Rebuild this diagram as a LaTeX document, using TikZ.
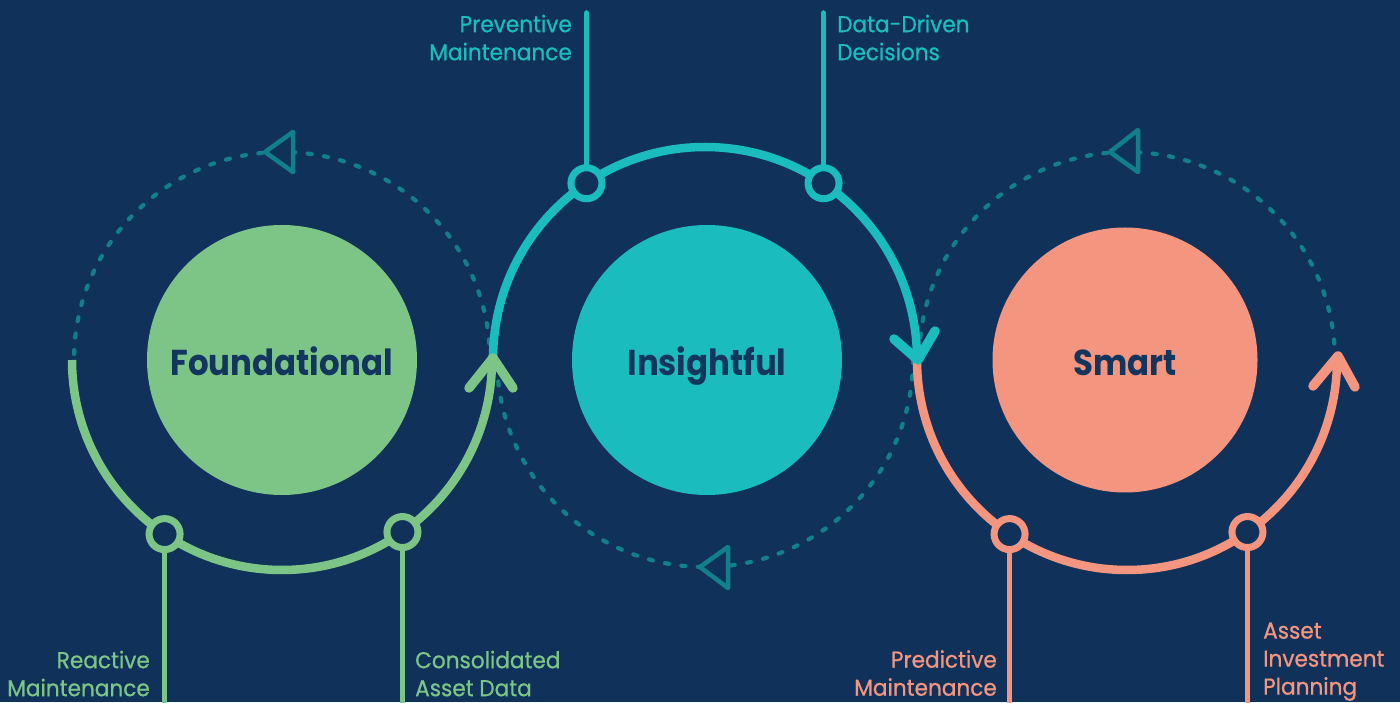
\documentclass[tikz,border=0pt]{standalone}
\usepackage{fontspec}
\setmainfont{Poppins}
\newfontfamily\titlefont{Poppins}[FakeStretch=0.9]
\newfontfamily\labelfont{Poppins}[FakeStretch=0.94, FakeBold=0.7]
\usetikzlibrary{calc}
\definecolor{bg}{HTML}{10325A}
\definecolor{fgreen}{HTML}{7DC586}
\definecolor{iteal}{HTML}{1ABCBE}
\definecolor{ssalmon}{HTML}{F4957F}
\definecolor{dteal}{HTML}{11808A}
\definecolor{navytext}{HTML}{12365E}
\tikzset{
  bigc/.style={circle, inner sep=0pt, minimum size=270pt, text=navytext,
    text height=32pt, text depth=0pt,
    font=\titlefont\bfseries\fontsize{36}{40}\selectfont},
  solidring/.style={line width=8.5pt},
  dashring/.style={dteal, line width=4.2pt, line cap=round, dash pattern=on 4pt off 12.5pt},
  chev/.style={line width=9.5pt, line cap=round, line join=round},
  tri/.style={dteal, line width=4.5pt, fill=bg, line join=round},
  smallc/.style={circle, inner sep=0pt, minimum size=31pt, line width=7pt, draw=#1, fill=bg},
  stem/.style={line width=5.5pt, line cap=round},
  lab/.style={inner sep=0pt, font=\labelfont\fontsize{23}{28}\selectfont},
}
\begin{document}
\begin{tikzpicture}[x=1pt,y=1pt]
\fill[bg] (0,0) rectangle (1400,702);
\useasboundingbox (0,0) rectangle (1400,702);

% ring centres
\coordinate (cF) at (282,342);
\coordinate (cI) at (705,343);
\coordinate (cS) at (1127,342);

% big circles
\node[bigc, fill=fgreen] (F) at (282,342) {Foundational};
\node[bigc, fill=iteal] (I) at (707,342) {Insightful};
\node[bigc, fill=ssalmon, minimum size=265pt] (S) at (1125,342) {Smart};

% dashed halves
\draw[dashring] ($(cF)+(0:208pt)$) arc[start angle=0, end angle=180, radius=208pt];
\draw[dashring] ($(cI)+(0:208pt)$) arc[start angle=0, end angle=-180, radius=208pt];
\draw[dashring] ($(cS)+(0:208pt)$) arc[start angle=0, end angle=180, radius=208pt];

% triangles
\draw[tri] (265,550) -- (293,570) -- (293,530) -- cycle;
\draw[tri] (700,135) -- (728,155) -- (728,114) -- cycle;
\draw[tri] (1110,550) -- (1138,572) -- (1138,530) -- cycle;

% solid halves
\draw[solidring, fgreen] ($(cF)+(180:210pt)$) arc[start angle=180, end angle=360, radius=210pt];
\draw[solidring, iteal] ($(cI)+(180:212pt)$) arc[start angle=180, end angle=0, radius=212pt];
\draw[solidring, ssalmon] ($(cS)+(180:210pt)$) arc[start angle=180, end angle=360, radius=210pt];

% arrowheads
\coordinate (fa1) at (469,314); \coordinate (fat) at (493,344); \coordinate (fa2) at (513,314);
\draw[chev, fgreen] (fa1) -- (fat) -- (fa2);
\coordinate (ia1) at (894,363); \coordinate (iat) at (918,342); \coordinate (ia2) at (935,371);
\draw[chev, iteal] (ia1) -- (iat) -- (ia2);
\coordinate (sa1) at (1313,316); \coordinate (sat) at (1338,346); \coordinate (sa2) at (1355,315);
\draw[chev, ssalmon] (sa1) -- (sat) -- (sa2);

% small circles
\coordinate (pf1) at ($(cF)+(-124:210pt)$);
\coordinate (pf2) at ($(cF)+(-55:210pt)$);
\coordinate (pi1) at ($(cI)+(124:212pt)$);
\coordinate (pi2) at ($(cI)+(56:212pt)$);
\coordinate (ps1) at ($(cS)+(-124:210pt)$);
\coordinate (ps2) at ($(cS)+(-55:210pt)$);

% stems ends
\coordinate (ef1) at (pf1 |- 0,-10);
\coordinate (ef2) at (pf2 |- 0,-10);
\coordinate (ei1) at (pi1 |- 0,689);
\coordinate (ei2) at (pi2 |- 0,689);
\coordinate (es1) at (ps1 |- 0,-10);
\coordinate (es2) at (ps2 |- 0,-10);

\node[smallc=fgreen] (f1) at (pf1) {};
\node[smallc=fgreen] (f2) at (pf2) {};
\node[smallc=iteal] (i1) at (pi1) {};
\node[smallc=iteal] (i2) at (pi2) {};
\node[smallc=ssalmon] (s1) at (ps1) {};
\node[smallc=ssalmon] (s2) at (ps2) {};

\draw[stem, fgreen] (f1.south) -- (ef1);
\draw[stem, fgreen] (f2.south) -- (ef2);
\draw[stem, iteal] (i1.north) -- (ei1);
\draw[stem, iteal] (i2.north) -- (ei2);
\draw[stem, ssalmon] (s1.south) -- (es1);
\draw[stem, ssalmon] (s2.south) -- (es2);

% labels
\node[lab, text=iteal, align=right, anchor=north east] (l1) at (572,687.5) {Preventive\\Maintenance};
\node[lab, text=iteal, align=left, anchor=north west] (l2) at (837,687.5) {Data-Driven\\Decisions};
\node[lab, text=fgreen, align=right, anchor=north east] (l3) at (150,51.5) {Reactive\\Maintenance};
\node[lab, text=fgreen, align=left, anchor=north west] (l4) at (415,51.5) {Consolidated\\Asset Data};
\node[lab, text=ssalmon, align=right, anchor=north east] (l5) at (997,52) {Predictive\\Maintenance};
\node[lab, text=ssalmon, align=left, anchor=north west] (l6) at (1263,79.5) {Asset\\Investment\\Planning};
\end{tikzpicture}
\end{document}
